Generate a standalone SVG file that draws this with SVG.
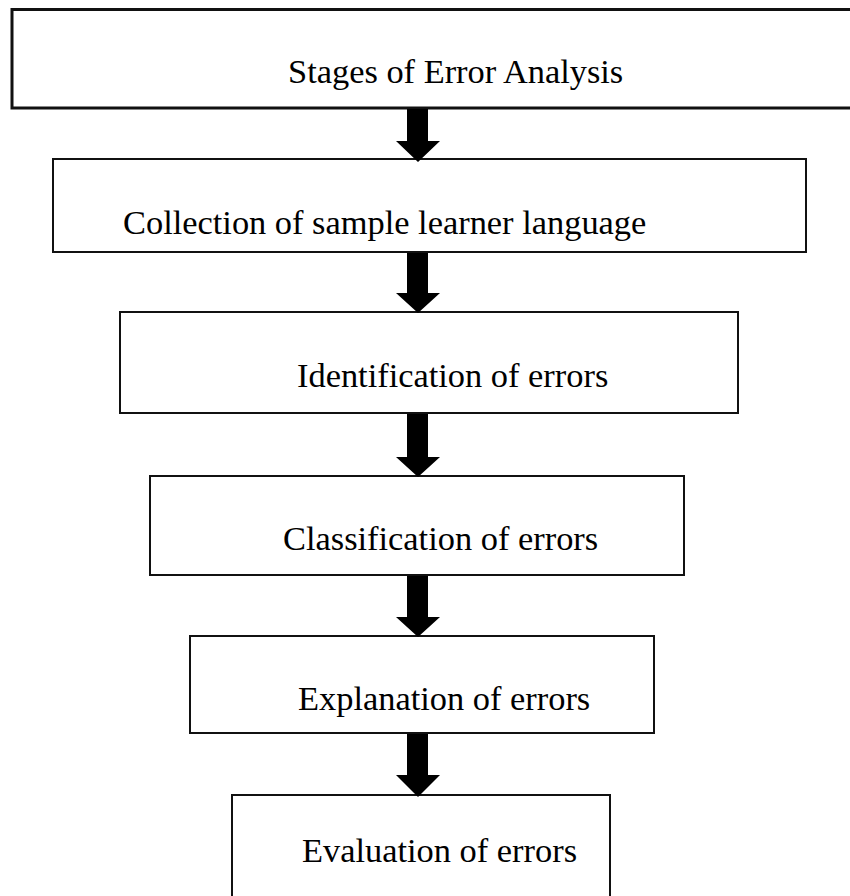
<svg xmlns="http://www.w3.org/2000/svg" width="850" height="896" viewBox="0 0 850 896">
<style>
.box{fill:#fff;stroke:#111;stroke-width:2}
.lbl{font-family:"Liberation Serif","Times New Roman",serif;font-size:34.4px;fill:#000}
.arr{fill:#000;stroke:none}
</style>
<rect width="850" height="896" fill="#fff"/>
<g id="n1"><rect class="box" x="12" y="9.5" width="860" height="98.5" style="stroke-width:3"/><text class="lbl" x="288" y="83">Stages of Error Analysis</text></g>
<g id="n2"><rect class="box" x="53" y="159" width="753" height="93"/><text class="lbl" x="123" y="234">Collection of sample learner language</text></g>
<g id="n3"><rect class="box" x="120" y="312" width="618" height="101"/><text class="lbl" x="297" y="387">Identification of errors</text></g>
<g id="n4"><rect class="box" x="150" y="476" width="534" height="99"/><text class="lbl" x="283" y="550">Classification of errors</text></g>
<g id="n5"><rect class="box" x="190" y="636" width="464" height="97"/><text class="lbl" x="298" y="710">Explanation of errors</text></g>
<g id="n6"><rect class="box" x="232" y="795" width="378" height="130"/><text class="lbl" x="302" y="862">Evaluation of errors</text></g>
<g id="connectors">
<polygon class="arr" points="407,109 428,109 428,141 440,141 418,162 396,141 407,141"/>
<polygon class="arr" points="407,253 428,253 428,293 440,293 418,313 396,293 407,293"/>
<polygon class="arr" points="407,414 428,414 428,457 440,457 418,477 396,457 407,457"/>
<polygon class="arr" points="407,576 428,576 428,617 440,617 418,637 396,617 407,617"/>
<polygon class="arr" points="407,734 428,734 428,775 440,775 418,797 396,775 407,775"/>
</g>
</svg>
